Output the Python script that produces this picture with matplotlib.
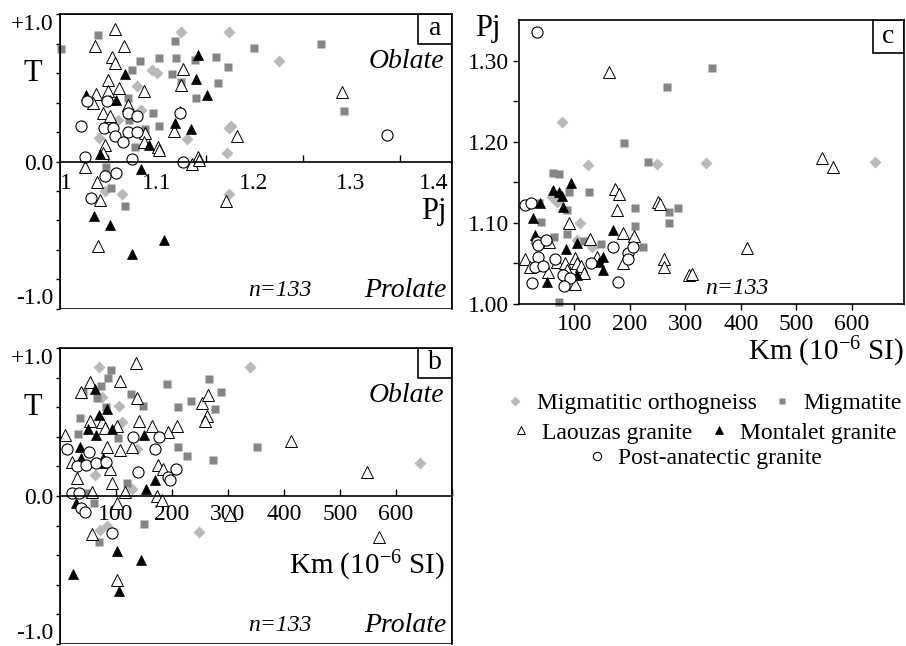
import numpy as np
import matplotlib
matplotlib.use("Agg")
from matplotlib import pyplot as plt
from matplotlib.patches import Rectangle
from matplotlib.ticker import MultipleLocator, FixedLocator

plt.rcParams['font.family'] = ['Liberation Serif', 'DejaVu Serif']
plt.rcParams['mathtext.fontset'] = 'custom'
plt.rcParams['mathtext.rm'] = 'Liberation Serif'
plt.rcParams['mathtext.it'] = 'Liberation Serif:italic'

groups = ['Migmatitic orthogneiss', 'Migmatite', 'Laouzas granite',
          'Montalet granite', 'Post-anatectic granite']

# ---- panel a : Pj vs T
a_orth_pj = [1.125, 1.174, 1.095, 1.100, 1.079, 1.084, 1.040, 1.131, 1.174, 1.226, 1.176,
             1.172, 1.046, 1.064, 1.174, 1.060]
a_orth_t = [0.88, 0.88, 0.62, 0.60, 0.51, 0.35, 0.16, 0.15, 0.23, 0.68, 0.24,
            0.06, -0.20, -0.22, -0.22, 0.28]
a_migm_pj = [1.001, 1.039, 1.119, 1.082, 1.074, 1.102, 1.120, 1.115, 1.125, 1.139, 1.161,
             1.163, 1.140, 1.070, 1.096, 1.102, 1.071, 1.088, 1.077, 1.173, 1.200, 1.269,
             1.293, 1.047, 1.053, 1.067]
a_migm_t = [0.76, 0.86, 0.82, 0.68, 0.62, 0.70, 0.70, 0.59, 0.54, 0.69, 0.71,
            0.53, 0.43, 0.43, 0.33, 0.24, 0.28, 0.22, 0.10, 0.64, 0.77, 0.80,
            0.34, -0.04, -0.18, -0.30]
a_laou_pj = [1.057, 1.036, 1.066, 1.054, 1.057, 1.127, 1.049, 1.061, 1.087, 1.037, 1.125,
             1.050, 1.034, 1.070, 1.044, 1.052, 1.118, 1.088, 1.046, 1.087, 1.101, 1.142,
             1.291, 1.182, 1.026, 1.038, 1.041, 1.039, 1.102, 1.136, 1.143, 1.171, 1.044]
a_laou_t = [0.90, 0.78, 0.78, 0.71, 0.67, 0.63, 0.55, 0.50, 0.48, 0.46, 0.52,
            0.48, 0.40, 0.38, 0.33, 0.31, 0.21, 0.19, 0.11, 0.13, 0.10, 0.03,
            0.47, 0.17, -0.04, -0.14, -0.26, -0.57, 0.08, -0.02, 0.01, -0.27, 0.06]
a_mont_pj = [1.142, 1.067, 1.140, 1.151, 1.027, 1.052, 1.058, 1.124, 1.119, 1.135, 1.092,
             1.041, 1.084, 1.035, 1.052, 1.107, 1.074]
a_mont_t = [0.72, 0.59, 0.56, 0.45, 0.45, 0.42, 0.42, 0.34, 0.26, 0.22, 0.11,
            0.05, -0.05, -0.37, -0.43, -0.53, -0.63]
a_post_pj = [1.022, 1.028, 1.070, 1.079, 1.045, 1.055, 1.057, 1.070, 1.079, 1.065, 1.124,
             1.026, 1.074, 1.127, 1.046, 1.058, 1.032, 1.337, 1.048]
a_post_t = [0.24, 0.41, 0.33, 0.31, 0.23, 0.23, 0.17, 0.20, 0.20, 0.13, 0.33,
            0.03, 0.02, 0.00, -0.10, -0.08, -0.25, 0.18, 0.41]

# ---- panel b : Km vs T
b_orth_km = [70, 105, 111, 75, 137, 62, 128, 71, 84, 248, 339, 643]
b_orth_t = [0.87, 0.61, 0.50, 0.67, 0.32, 0.14, 0.05, -0.23, -0.20, -0.24, 0.87, 0.22]
b_migm_km = [91, 86, 73, 41, 66, 82, 127, 148, 191, 211, 234, 266, 288, 277, 36, 32,
             104, 211, 227, 273, 120, 50, 351, 61, 150, 70]
b_migm_t = [0.85, 0.80, 0.74, 0.70, 0.66, 0.60, 0.69, 0.61, 0.76, 0.60, 0.64, 0.79, 0.70,
            0.59, 0.53, 0.42, 0.39, 0.33, 0.27, 0.24, 0.09, 0.02, 0.33, -0.05, -0.19, -0.31]
b_laou_km = [136, 54, 107, 37, 137, 54, 75, 141, 101, 80, 164, 209, 193, 9, 84, 107, 128,
             253, 265, 262, 259, 21, 30, 175, 184, 89, 93, 116, 57, 173, 412, 548, 57,
             101, 182, 101, 570, 304]
b_laou_t = [0.90, 0.77, 0.78, 0.70, 0.66, 0.51, 0.50, 0.51, 0.47, 0.46, 0.47, 0.47, 0.43,
            0.41, 0.33, 0.31, 0.33, 0.63, 0.68, 0.54, 0.51, 0.23, 0.12, 0.21, 0.18, 0.18,
            0.09, 0.03, 0.03, 0.00, 0.37, 0.16, -0.26, -0.05, -0.03, -0.57, -0.28, -0.13]
b_mont_km = [62, 70, 84, 50, 64, 93, 150, 36, 38, 77, 75, 153, 170, 29, 101, 145, 24, 105]
b_mont_t = [0.72, 0.55, 0.59, 0.45, 0.41, 0.45, 0.41, 0.33, 0.26, 0.26, 0.22, 0.05, 0.11,
            -0.05, -0.37, -0.43, -0.53, -0.64]
b_post_km = [12, 52, 30, 46, 64, 82, 130, 177, 170, 139, 193, 207, 21, 34, 38, 45, 93, 196]
b_post_t = [0.32, 0.30, 0.20, 0.21, 0.22, 0.23, 0.40, 0.40, 0.32, 0.16, 0.13, 0.18, 0.02,
            0.02, -0.08, -0.11, -0.25, 0.11]

# ---- panel c : Km vs Pj
c_orth_km = [77, 124, 248, 338, 641, 60, 68, 110, 104, 131]
c_orth_pj = [1.224, 1.171, 1.173, 1.174, 1.175, 1.132, 1.126, 1.100, 1.079, 1.070]
c_migm_km = [266, 189, 232, 61, 72, 348, 90, 126, 36, 40, 86, 210, 210, 271, 286, 271,
             86, 223, 147, 117, 63, 72]
c_migm_pj = [1.267, 1.199, 1.175, 1.162, 1.160, 1.291, 1.138, 1.138, 1.125, 1.101, 1.116,
             1.118, 1.096, 1.114, 1.118, 1.100, 1.086, 1.070, 1.074, 1.078, 1.083, 1.002]
c_laou_km = [162, 546, 566, 173, 180, 176, 90, 128, 187, 207, 250, 255, 262, 262, 307, 11,
             20, 54, 68, 83, 101, 104, 111, 117, 101, 86, 187, 140, 52, 311, 411]
c_laou_pj = [1.286, 1.180, 1.169, 1.142, 1.135, 1.116, 1.100, 1.080, 1.088, 1.084, 1.126,
             1.123, 1.056, 1.046, 1.036, 1.056, 1.046, 1.077, 1.052, 1.051, 1.057, 1.051,
             1.047, 1.038, 1.025, 1.042, 1.051, 1.058, 1.040, 1.037, 1.069]
c_mont_km = [93, 61, 72, 77, 79, 38, 25, 29, 84, 104, 50, 104, 144, 151, 151, 169]
c_mont_pj = [1.149, 1.141, 1.138, 1.133, 1.119, 1.125, 1.106, 1.085, 1.068, 1.075, 1.027,
             1.036, 1.052, 1.058, 1.042, 1.091]
c_post_km = [32, 11, 22, 32, 34, 49, 34, 29, 23, 43, 65, 79, 92, 81, 129, 169, 196, 205,
             196, 178]
c_post_pj = [1.335, 1.122, 1.125, 1.077, 1.073, 1.079, 1.058, 1.046, 1.026, 1.047, 1.056,
             1.036, 1.032, 1.022, 1.050, 1.070, 1.063, 1.070, 1.055, 1.027]

styles = [dict(marker='D', ms=6.5, mfc='#b9b9b9', mec='none'),
          dict(marker='s', ms=6.0, mfc='#858585', mec='none'),
          dict(marker='^', ms=8.5, mfc='white', mec='black', mew=0.7),
          dict(marker='^', ms=7.0, mfc='black', mec='black', mew=0.5),
          dict(marker='o', ms=8.0, mfc='white', mec='black', mew=0.8)]

fig = plt.figure(figsize=(9.06, 6.46), dpi=100)
axa = fig.add_axes([0.0662, 0.5217, 0.4327, 0.4566])
axb = fig.add_axes([0.0662, 0.0031, 0.4327, 0.4582])
axc = fig.add_axes([0.5728, 0.5294, 0.4250, 0.4396])

data_a = [(a_orth_pj, a_orth_t), (a_migm_pj, a_migm_t), (a_laou_pj, a_laou_t),
          (a_mont_pj, a_mont_t), (a_post_pj, a_post_t)]
data_b = [(b_orth_km, b_orth_t), (b_migm_km, b_migm_t), (b_laou_km, b_laou_t),
          (b_mont_km, b_mont_t), (b_post_km, b_post_t)]
data_c = [(c_orth_km, c_orth_pj), (c_migm_km, c_migm_pj), (c_laou_km, c_laou_pj),
          (c_mont_km, c_mont_pj), (c_post_km, c_post_pj)]

handles = []
for ax, data in [(axa, data_a), (axb, data_b), (axc, data_c)]:
    hs = []
    for (x, y), st, name in zip(data, styles, groups):
        h, = ax.plot(x, y, ls='none', label=name, clip_on=False, **st)
        hs.append(h)
    handles = hs

tfs = 17
# T panels
for ax, letter in [(axa, 'a'), (axb, 'b')]:
    ax.set_ylim(-1, 1)
    for s in ['top', 'right', 'left']:
        ax.spines[s].set_linewidth(1.2)
    ax.spines['bottom'].set_position(('data', 0))
    ax.spines['bottom'].set_linewidth(1.2)
    ax.add_patch(Rectangle((0, 0), 1, 1, transform=ax.transAxes, fill=False, lw=1.2,
                           ec='black', zorder=5))
    ax.yaxis.set_major_locator(FixedLocator([-1, 0, 1]))
    ax.set_yticklabels(['-1.0', '0.0', '+1.0'], fontsize=tfs)
    ax.yaxis.set_minor_locator(MultipleLocator(0.2))
    ax.tick_params(axis='y', which='both', direction='out', length=3, width=1, pad=1.5)
    ylabs = ax.get_yticklabels()
    ylabs[0].set_va('bottom')
    ylabs[2].set_va('top')
    ax.text(-0.069, 0.80, 'T', transform=ax.transAxes, fontsize=22, ha='center', va='center')
    ax.text(0.98, 0.838, 'Oblate', transform=ax.transAxes, fontsize=20, style='italic',
            ha='right', va='center')
    ax.text(0.985, 0.062, 'Prolate', transform=ax.transAxes, fontsize=20, style='italic',
            ha='right', va='center')
    ax.text(0.561, 0.062, 'n=133', transform=ax.transAxes, fontsize=17, style='italic',
            ha='center', va='center')
    ax.add_patch(Rectangle((0.913, 0.9), 0.087, 0.1, transform=ax.transAxes, fill=False,
                           lw=1.2, ec='black', zorder=5))
    ax.text(0.9565, 0.95, letter, transform=ax.transAxes, fontsize=20, ha='center',
            va='center')

axa.set_xlim(1.0, 1.404)
axa.xaxis.set_major_locator(FixedLocator([1.0, 1.1, 1.2, 1.3, 1.4]))
axa.set_xticklabels(['1', '1.1', '1.2', '1.3', '1.4'], fontsize=tfs)
axa.xaxis.set_minor_locator(FixedLocator([1.05, 1.15, 1.25, 1.35]))
axa.tick_params(axis='x', which='major', length=0, pad=8)
axa.tick_params(axis='x', which='minor', direction='in', length=5, width=1)
xl = axa.get_xticklabels()
xl[0].set_ha('left')
xl[-1].set_ha('right')
axa.text(0.987, 0.33, 'Pj', transform=axa.transAxes, fontsize=22, ha='right', va='center')

axb.set_xlim(0, 700)
axb.xaxis.set_major_locator(FixedLocator([100, 200, 300, 400, 500, 600, 700]))
axb.set_xticklabels(['100', '200', '300', '400', '500', '600', ''], fontsize=tfs)
axb.tick_params(axis='x', which='major', direction='in', length=5, width=1, pad=6)
axb.text(0.982, 0.264, 'Km (10$^{-6}$ SI)', transform=axb.transAxes, fontsize=21,
         ha='right', va='center')

# Pj-Km panel
axc.set_xlim(0, 694)
axc.set_ylim(1.0, 1.35)
for s in axc.spines.values():
    s.set_linewidth(1.2)
axc.xaxis.set_major_locator(FixedLocator([100, 200, 300, 400, 500, 600]))
axc.set_xticklabels(['100', '200', '300', '400', '500', '600'], fontsize=tfs)
axc.yaxis.set_major_locator(FixedLocator([1.0, 1.1, 1.2, 1.3]))
axc.set_yticklabels(['1.00', '1.10', '1.20', '1.30'], fontsize=tfs)
axc.yaxis.set_minor_locator(FixedLocator([1.05, 1.15, 1.25]))
axc.tick_params(which='both', direction='out', length=4, width=1, pad=3)
axc.text(-0.08, 0.97, 'Pj', transform=axc.transAxes, fontsize=22, ha='center', va='center')
axc.text(0.566, 0.056, 'n=133', transform=axc.transAxes, fontsize=17, style='italic',
         ha='center', va='center')
axc.text(1.0, -0.169, 'Km (10$^{-6}$ SI)', transform=axc.transAxes, fontsize=21,
         ha='right', va='center')
axc.add_patch(Rectangle((0.92, 0.885), 0.08, 0.115, transform=axc.transAxes, fill=False,
                        lw=1.2, ec='black', zorder=5))
axc.text(0.96, 0.9425, 'c', transform=axc.transAxes, fontsize=20, ha='center', va='center')

leg_kw = dict(frameon=False, fontsize=17, markerscale=0.75, handlelength=0.8,
              handletextpad=0.5, columnspacing=0.7, borderpad=0, borderaxespad=0)
fig.legend(handles[0:2], groups[0:2], loc='center', bbox_to_anchor=(0.777, 0.376),
           ncol=2, **leg_kw)
fig.legend(handles[2:4], groups[2:4], loc='center', bbox_to_anchor=(0.777, 0.330),
           ncol=2, **leg_kw)
fig.legend(handles[4:5], groups[4:5], loc='center', bbox_to_anchor=(0.778, 0.291),
           ncol=1, **leg_kw)

fig.savefig('out.png', dpi=100)
